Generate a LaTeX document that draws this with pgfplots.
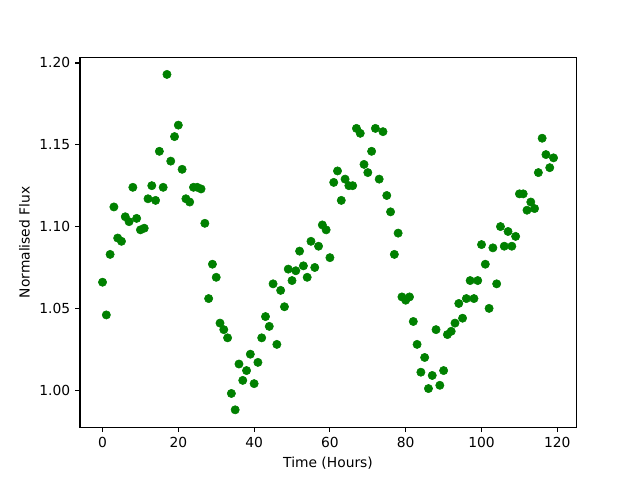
\documentclass[border=0pt]{standalone}
\usepackage{pgfplots}
\pgfplotsset{compat=1.18}
\usepackage{fontspec}
\setmainfont{DejaVu Sans}
\definecolor{mplgreen}{RGB}{0,128,0}
\begin{document}
\fontsize{10}{12}\selectfont
\begin{tikzpicture}
\begin{axis}[
  name=ax,
  scale only axis,
  width=358.5pt, height=267.1pt,
  xmin=-5.95, xmax=124.95,
  ymin=0.9774, ymax=1.2033,
  xtick={0,20,40,60,80,100,120},
  ytick={1.00,1.05,1.10,1.15,1.20},
  yticklabel style={/pgf/number format/.cd,fixed,fixed zerofill,precision=2},
  /pgf/number format/assume math mode=true,
  tick align=outside,
  tick pos=left,
  major tick length=3.5pt,
  tick style={black, line width=0.8pt},
  axis line style={line width=0.8pt},
  xlabel={Time (Hours)},
  ylabel={Normalised Flux},
  ticklabel style={font=\fontsize{10}{12}\selectfont},
  label style={font=\fontsize{10}{12}\selectfont},
  scaled y ticks=false,
]
\addplot[only marks, mark=*, mark size=3pt, color=mplgreen, mark options={fill=mplgreen, draw=mplgreen}] table {
x y
0 1.066
1 1.046
2 1.083
3 1.112
4 1.093
5 1.091
6 1.106
7 1.103
8 1.124
9 1.105
10 1.098
11 1.099
12 1.117
13 1.125
14 1.116
15 1.146
16 1.124
17 1.193
18 1.140
19 1.155
20 1.162
21 1.135
22 1.117
23 1.115
24 1.124
25 1.124
26 1.123
27 1.102
28 1.056
29 1.077
30 1.069
31 1.041
32 1.037
33 1.032
34 0.998
35 0.988
36 1.016
37 1.006
38 1.012
39 1.022
40 1.004
41 1.017
42 1.032
43 1.045
44 1.039
45 1.065
46 1.028
47 1.061
48 1.051
49 1.074
50 1.067
51 1.073
52 1.085
53 1.076
54 1.069
55 1.091
56 1.075
57 1.088
58 1.101
59 1.098
60 1.081
61 1.127
62 1.134
63 1.116
64 1.129
65 1.125
66 1.125
67 1.160
68 1.157
69 1.138
70 1.133
71 1.146
72 1.160
73 1.129
74 1.158
75 1.119
76 1.109
77 1.083
78 1.096
79 1.057
80 1.055
81 1.057
82 1.042
83 1.028
84 1.011
85 1.020
86 1.001
87 1.009
88 1.037
89 1.003
90 1.012
91 1.034
92 1.036
93 1.041
94 1.053
95 1.044
96 1.056
97 1.067
98 1.056
99 1.067
100 1.089
101 1.077
102 1.050
103 1.087
104 1.065
105 1.100
106 1.088
107 1.097
108 1.088
109 1.094
110 1.120
111 1.120
112 1.110
113 1.115
114 1.111
115 1.133
116 1.154
117 1.144
118 1.136
119 1.142
};
\end{axis}
\useasboundingbox ([shift={(-57.8pt,-38.2pt)}]ax.south west) rectangle ++(462.5pt,346.9pt);
\end{tikzpicture}
\end{document}
